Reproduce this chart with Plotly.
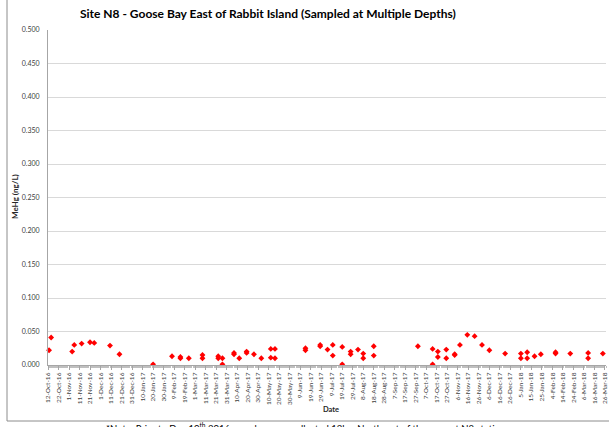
import plotly.graph_objects as go

dates = ["2016-10-13","2016-10-15","2016-11-04","2016-11-06","2016-11-13","2016-11-21","2016-11-25",
         "2016-12-10","2016-12-19","2017-01-20","2017-02-07","2017-02-15","2017-02-15","2017-02-23",
         "2017-03-08","2017-03-08","2017-03-23","2017-03-23","2017-03-27","2017-03-27",
         "2017-04-07","2017-04-07","2017-04-12","2017-04-19","2017-04-19","2017-04-26","2017-05-03",
         "2017-05-12","2017-05-12","2017-05-16","2017-05-16","2017-06-14","2017-06-14",
         "2017-06-28","2017-06-28","2017-07-05","2017-07-10","2017-07-10","2017-07-19","2017-07-19",
         "2017-07-27","2017-07-27","2017-08-03","2017-08-08","2017-08-08","2017-08-18","2017-08-18",
         "2017-09-29","2017-10-13","2017-10-13","2017-10-18","2017-10-18","2017-10-26","2017-10-26",
         "2017-11-03","2017-11-03","2017-11-08","2017-11-15","2017-11-22","2017-11-29","2017-12-06",
         "2017-12-21","2018-01-05","2018-01-05","2018-01-11","2018-01-11","2018-01-18","2018-01-24",
         "2018-02-07","2018-02-07","2018-02-21","2018-03-10","2018-03-10","2018-03-24"]
mehg = [0.022,0.041,0.020,0.030,0.032,0.034,0.033,
        0.029,0.016,0.001,0.013,0.012,0.010,0.010,
        0.015,0.010,0.013,0.010,0.010,0.001,
        0.018,0.016,0.010,0.020,0.018,0.016,0.010,
        0.024,0.011,0.024,0.010,0.025,0.022,
        0.030,0.028,0.023,0.030,0.014,0.027,0.001,
        0.020,0.016,0.023,0.017,0.010,0.028,0.014,
        0.028,0.024,0.001,0.020,0.012,0.023,0.010,
        0.016,0.015,0.030,0.045,0.043,0.030,0.022,
        0.017,0.017,0.010,0.019,0.010,0.013,0.016,
        0.019,0.017,0.017,0.018,0.010,0.017]

title_text = "Site N8 - Goose Bay East of Rabbit Island (Sampled at Multiple Depths)"
note_text = "*Note: Prior to Dec 10<sup>th</sup> 2016 samples were collected 12km Northeast of the current N8 station"

W, H = 609, 427
L, R, T, B = 48, 3, 30, 62
pw, ph = W - L - R, H - T - B

def px_x(p):
    return (p - L) / pw

def px_y(p):
    return (H - B - p) / ph

fig = go.Figure()
fig.add_trace(go.Scatter(
    x=dates, y=mehg, mode="markers",
    marker=dict(symbol="diamond", size=4.5, color="#ff0000"),
    showlegend=False, cliponaxis=False))

font = "Lato, 'Liberation Sans', sans-serif"
fig.update_layout(
    width=W, height=H,
    margin=dict(l=L, r=R, t=T, b=B, autoexpand=False),
    paper_bgcolor="white", plot_bgcolor="white",
    font=dict(family=font, color="#595959"),
    hovermode=False,
    xaxis=dict(
        type="date", automargin=False,
        range=["2016-10-12", "2018-03-27"],
        tick0="2016-10-12", dtick=10 * 86400000,
        tickformat="%-d-%b-%y", tickangle=-90,
        tickfont=dict(size=6.5, color="#404040"),
        ticks="outside", ticklen=4, tickcolor="#a6a6a6",
        minor=dict(ticks="outside", dtick=86400000, ticklen=2, tickcolor="#bfbfbf", showgrid=False),
        showline=True, linecolor="#a6a6a6", linewidth=1,
        showgrid=False, zeroline=False,
    ),
    yaxis=dict(
        range=[0, 0.5], dtick=0.05, tickformat=".3f", automargin=False,
        tickfont=dict(size=7, color="#404040"),
        showline=True, linecolor="#a6a6a6", linewidth=1,
        showgrid=True, gridcolor="#d9d9d9", gridwidth=1,
        zeroline=False, ticks="", ticklabelstandoff=6,
    ),
    annotations=[
        dict(text="<b>" + title_text + "</b>", x=px_x(267.5), y=px_y(14), xref="paper", yref="paper",
             xanchor="center", yanchor="middle", showarrow=False,
             font=dict(size=12, color="#000000", family=font)),
        dict(text="<b>Date</b>", x=px_x(331), y=px_y(409), xref="paper", yref="paper",
             xanchor="center", yanchor="middle", showarrow=False,
             font=dict(size=7.5, color="#262626", family=font)),
        dict(text="<b>MeHg (ng/L)</b>", x=px_x(15), y=px_y(197), xref="paper", yref="paper",
             xanchor="center", yanchor="middle", showarrow=False, textangle=-90,
             font=dict(size=8, color="#262626", family=font)),
        dict(text=note_text, x=px_x(305), y=px_y(419), xref="paper", yref="paper",
             xanchor="center", yanchor="top", showarrow=False,
             font=dict(size=9.5, color="#000000", family=font)),
    ],
    shapes=[
        dict(type="rect", xref="paper", yref="paper",
             x0=px_x(7), x1=px_x(615), y0=px_y(421), y1=px_y(-10),
             line=dict(color="#8c8c8c", width=1), fillcolor="rgba(0,0,0,0)", layer="above"),
    ],
)

fig.write_html("out.html", config={"displayModeBar": False, "staticPlot": True},
               post_script="document.body.style.margin='0';document.body.style.padding='0';")
